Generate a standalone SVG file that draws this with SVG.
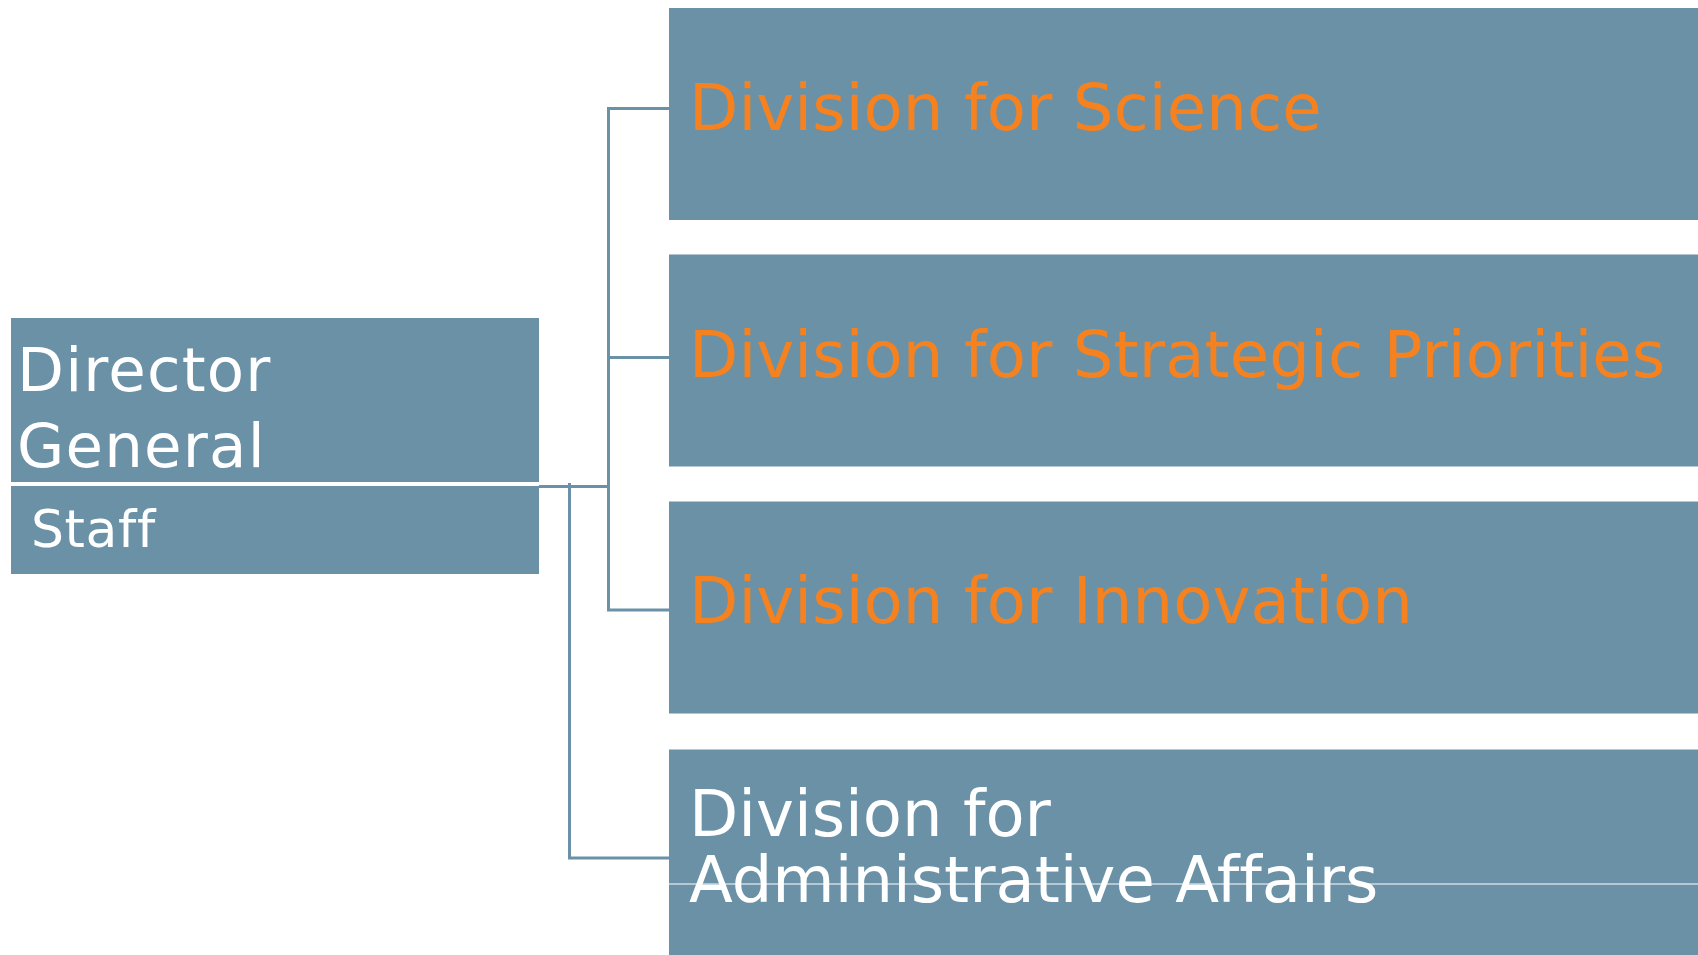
<svg xmlns="http://www.w3.org/2000/svg" width="1698" height="955" viewBox="0 0 1698 955">
<style>
.box{fill:#6b91a7}
.t{font-family:"DejaVu Sans","Verdana",sans-serif;font-variant-ligatures:none}
.w{fill:#ffffff}
.o{fill:#f5821f}
.c{fill:none;stroke:#6b91a7;stroke-width:3}
</style>
<rect width="1698" height="955" fill="#ffffff"/>
<g id="connectors">
<polyline class="c" points="669,108.5 608.5,108.5 608.5,610 669,610"/>
<line class="c" x1="608.5" y1="357.5" x2="669" y2="357.5"/>
<line class="c" x1="539" y1="486.5" x2="608.5" y2="486.5"/>
<polyline class="c" points="569.5,483 569.5,858 669,858"/>
</g>
<g id="director-general">
<rect class="box" x="11" y="318" width="528" height="164"/>
<text class="t w" x="17" y="391" font-size="61" letter-spacing="1.2">Director</text>
<text class="t w" x="17" y="467" font-size="61" letter-spacing="1.2">General</text>
</g>
<g id="staff">
<rect class="box" x="11" y="486" width="528" height="88"/>
<text class="t w" x="31" y="547" font-size="52" letter-spacing="0.6">Staff</text>
</g>
<g id="division-science">
<rect class="box" x="669" y="8" width="1029" height="212"/>
<text class="t o" x="689" y="129.5" font-size="64" letter-spacing="0.12">Division for Science</text>
</g>
<g id="division-strategic">
<rect class="box" x="669" y="254.5" width="1029" height="212"/>
<text class="t o" x="689" y="376.5" font-size="64" letter-spacing="0.12">Division for Strategic Priorities</text>
</g>
<g id="division-innovation">
<rect class="box" x="669" y="501.5" width="1029" height="212"/>
<text class="t o" x="689" y="623" font-size="64" letter-spacing="0.12">Division for Innovation</text>
</g>
<g id="division-admin">
<rect class="box" x="669" y="749.5" width="1029" height="206"/>
<text class="t w" x="689" y="836" font-size="64">Division for</text>
<text class="t w" x="689" y="902" font-size="64">Administrative Affairs</text>
<line x1="669" y1="884" x2="1698" y2="884" stroke="#ffffff" stroke-width="1"/>
</g>
</svg>
